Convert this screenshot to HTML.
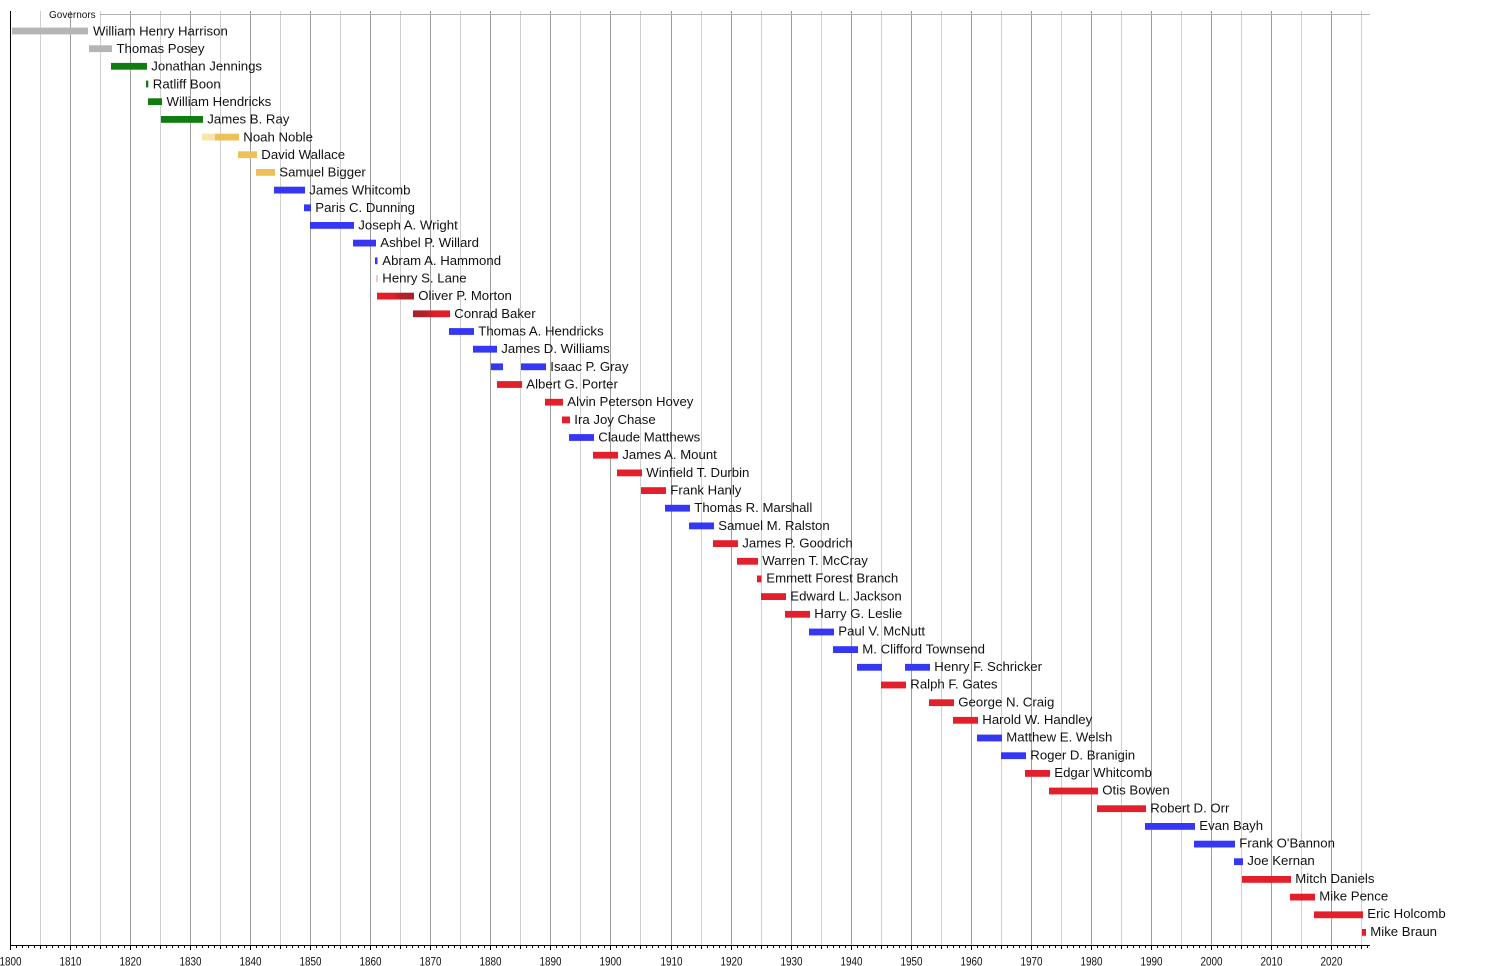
<!DOCTYPE html>
<html>
<head>
<meta charset="utf-8">
<style>
  html, body { margin:0; padding:0; background:#fff; }
  svg { display:block; }
  text { font-family: "Liberation Sans", Arial, sans-serif; fill:#111; }
  .lbl { font-size:13.2px; }
  .ax { font-size:11.5px; text-anchor:middle; }
</style>
</head>
<body>
<svg width="1500" height="966" viewBox="0 0 1500 966" xmlns="http://www.w3.org/2000/svg">
  <defs>
    <linearGradient id="morton" x1="0" x2="1" y1="0" y2="0">
      <stop offset="0" stop-color="#e31f2b"/>
      <stop offset="0.45" stop-color="#e01f2b"/>
      <stop offset="0.68" stop-color="#b0202a"/>
      <stop offset="1" stop-color="#ac2029"/>
    </linearGradient>
    <linearGradient id="baker" x1="0" x2="1" y1="0" y2="0">
      <stop offset="0" stop-color="#ac2029"/>
      <stop offset="0.3" stop-color="#b3202a"/>
      <stop offset="0.6" stop-color="#e01f2b"/>
      <stop offset="1" stop-color="#e31f2b"/>
    </linearGradient>
  </defs>

  <!-- grid lines -->
  <g stroke-width="1">
    <line x1="40.5" y1="11" x2="40.5" y2="945" stroke="#cfcfcf"/>
    <line x1="70.5" y1="11" x2="70.5" y2="945" stroke="#9c9c9c"/>
    <line x1="100.5" y1="11" x2="100.5" y2="945" stroke="#cfcfcf"/>
    <line x1="130.5" y1="11" x2="130.5" y2="945" stroke="#9c9c9c"/>
    <line x1="160.5" y1="11" x2="160.5" y2="945" stroke="#cfcfcf"/>
    <line x1="190.5" y1="11" x2="190.5" y2="945" stroke="#9c9c9c"/>
    <line x1="220.5" y1="11" x2="220.5" y2="945" stroke="#cfcfcf"/>
    <line x1="250.5" y1="11" x2="250.5" y2="945" stroke="#9c9c9c"/>
    <line x1="280.5" y1="11" x2="280.5" y2="945" stroke="#cfcfcf"/>
    <line x1="310.5" y1="11" x2="310.5" y2="945" stroke="#9c9c9c"/>
    <line x1="340.5" y1="11" x2="340.5" y2="945" stroke="#cfcfcf"/>
    <line x1="370.5" y1="11" x2="370.5" y2="945" stroke="#9c9c9c"/>
    <line x1="400.5" y1="11" x2="400.5" y2="945" stroke="#cfcfcf"/>
    <line x1="430.5" y1="11" x2="430.5" y2="945" stroke="#9c9c9c"/>
    <line x1="460.5" y1="11" x2="460.5" y2="945" stroke="#cfcfcf"/>
    <line x1="490.5" y1="11" x2="490.5" y2="945" stroke="#9c9c9c"/>
    <line x1="520.5" y1="11" x2="520.5" y2="945" stroke="#cfcfcf"/>
    <line x1="550.5" y1="11" x2="550.5" y2="945" stroke="#9c9c9c"/>
    <line x1="580.5" y1="11" x2="580.5" y2="945" stroke="#cfcfcf"/>
    <line x1="610.5" y1="11" x2="610.5" y2="945" stroke="#9c9c9c"/>
    <line x1="640.5" y1="11" x2="640.5" y2="945" stroke="#cfcfcf"/>
    <line x1="671.5" y1="11" x2="671.5" y2="945" stroke="#9c9c9c"/>
    <line x1="701.5" y1="11" x2="701.5" y2="945" stroke="#cfcfcf"/>
    <line x1="731.5" y1="11" x2="731.5" y2="945" stroke="#9c9c9c"/>
    <line x1="761.5" y1="11" x2="761.5" y2="945" stroke="#cfcfcf"/>
    <line x1="791.5" y1="11" x2="791.5" y2="945" stroke="#9c9c9c"/>
    <line x1="821.5" y1="11" x2="821.5" y2="945" stroke="#cfcfcf"/>
    <line x1="851.5" y1="11" x2="851.5" y2="945" stroke="#9c9c9c"/>
    <line x1="881.5" y1="11" x2="881.5" y2="945" stroke="#cfcfcf"/>
    <line x1="911.5" y1="11" x2="911.5" y2="945" stroke="#9c9c9c"/>
    <line x1="941.5" y1="11" x2="941.5" y2="945" stroke="#cfcfcf"/>
    <line x1="971.5" y1="11" x2="971.5" y2="945" stroke="#9c9c9c"/>
    <line x1="1001.5" y1="11" x2="1001.5" y2="945" stroke="#cfcfcf"/>
    <line x1="1031.5" y1="11" x2="1031.5" y2="945" stroke="#9c9c9c"/>
    <line x1="1061.5" y1="11" x2="1061.5" y2="945" stroke="#cfcfcf"/>
    <line x1="1091.5" y1="11" x2="1091.5" y2="945" stroke="#9c9c9c"/>
    <line x1="1121.5" y1="11" x2="1121.5" y2="945" stroke="#cfcfcf"/>
    <line x1="1151.5" y1="11" x2="1151.5" y2="945" stroke="#9c9c9c"/>
    <line x1="1181.5" y1="11" x2="1181.5" y2="945" stroke="#cfcfcf"/>
    <line x1="1211.5" y1="11" x2="1211.5" y2="945" stroke="#9c9c9c"/>
    <line x1="1241.5" y1="11" x2="1241.5" y2="945" stroke="#cfcfcf"/>
    <line x1="1271.5" y1="11" x2="1271.5" y2="945" stroke="#9c9c9c"/>
    <line x1="1301.5" y1="11" x2="1301.5" y2="945" stroke="#cfcfcf"/>
    <line x1="1331.5" y1="11" x2="1331.5" y2="945" stroke="#9c9c9c"/>
    <line x1="1361.5" y1="11" x2="1361.5" y2="945" stroke="#cfcfcf"/>
  </g>

  <!-- top line -->
  <line x1="100" y1="14.5" x2="1370" y2="14.5" stroke="#b4b4b4" stroke-width="1"/>
  <text x="49" y="18" style="font-size:10px">Governors</text>

  <!-- axes -->
  <line x1="10.5" y1="11" x2="10.5" y2="946" stroke="#000" stroke-width="1"/>
  <line x1="10" y1="945.5" x2="1370" y2="945.5" stroke="#000" stroke-width="1"/>

  <!-- ticks -->
  <path stroke="#000" stroke-width="1" fill="none" d="
M10.5 946v4 M16.5 946v2 M22.5 946v2 M28.5 946v2 M34.5 946v2 M40.5 946v3 M46.5 946v2 M52.5 946v2 M58.5 946v2 M64.5 946v2
M70.5 946v4 M76.5 946v2 M82.5 946v2 M88.5 946v2 M94.5 946v2 M100.5 946v3 M106.5 946v2 M112.5 946v2 M118.5 946v2 M124.5 946v2
M130.5 946v4 M136.5 946v2 M142.5 946v2 M148.5 946v2 M154.5 946v2 M160.5 946v3 M166.5 946v2 M172.5 946v2 M178.5 946v2 M184.5 946v2
M190.5 946v4 M196.5 946v2 M202.5 946v2 M208.5 946v2 M214.5 946v2 M220.5 946v3 M226.5 946v2 M232.5 946v2 M238.5 946v2 M244.5 946v2
M250.5 946v4 M256.5 946v2 M262.5 946v2 M268.5 946v2 M274.5 946v2 M280.5 946v3 M286.5 946v2 M292.5 946v2 M298.5 946v2 M304.5 946v2
M310.5 946v4 M316.5 946v2 M322.5 946v2 M328.5 946v2 M334.5 946v2 M340.5 946v3 M346.5 946v2 M352.5 946v2 M358.5 946v2 M364.5 946v2
M370.5 946v4 M376.5 946v2 M382.5 946v2 M388.5 946v2 M394.5 946v2 M400.5 946v3 M406.5 946v2 M412.5 946v2 M418.5 946v2 M424.5 946v2
M430.5 946v4 M436.5 946v2 M442.5 946v2 M448.5 946v2 M454.5 946v2 M460.5 946v3 M466.5 946v2 M472.5 946v2 M478.5 946v2 M484.5 946v2
M490.5 946v4 M496.5 946v2 M502.5 946v2 M508.5 946v2 M514.5 946v2 M520.5 946v3 M526.5 946v2 M532.5 946v2 M538.5 946v2 M544.5 946v2
M550.5 946v4 M556.5 946v2 M562.5 946v2 M568.5 946v2 M574.5 946v2 M580.5 946v3 M586.5 946v2 M592.5 946v2 M598.5 946v2 M604.5 946v2
M610.5 946v4 M616.5 946v2 M622.5 946v2 M628.5 946v2 M634.5 946v2 M640.5 946v3 M646.5 946v2 M652.5 946v2 M658.5 946v2 M665.5 946v2
M671.5 946v4 M677.5 946v2 M683.5 946v2 M689.5 946v2 M695.5 946v2 M701.5 946v3 M707.5 946v2 M713.5 946v2 M719.5 946v2 M725.5 946v2
M731.5 946v4 M737.5 946v2 M743.5 946v2 M749.5 946v2 M755.5 946v2 M761.5 946v3 M767.5 946v2 M773.5 946v2 M779.5 946v2 M785.5 946v2
M791.5 946v4 M797.5 946v2 M803.5 946v2 M809.5 946v2 M815.5 946v2 M821.5 946v3 M827.5 946v2 M833.5 946v2 M839.5 946v2 M845.5 946v2
M851.5 946v4 M857.5 946v2 M863.5 946v2 M869.5 946v2 M875.5 946v2 M881.5 946v3 M887.5 946v2 M893.5 946v2 M899.5 946v2 M905.5 946v2
M911.5 946v4 M917.5 946v2 M923.5 946v2 M929.5 946v2 M935.5 946v2 M941.5 946v3 M947.5 946v2 M953.5 946v2 M959.5 946v2 M965.5 946v2
M971.5 946v4 M977.5 946v2 M983.5 946v2 M989.5 946v2 M995.5 946v2 M1001.5 946v3 M1007.5 946v2 M1013.5 946v2 M1019.5 946v2 M1025.5 946v2
M1031.5 946v4 M1037.5 946v2 M1043.5 946v2 M1049.5 946v2 M1055.5 946v2 M1061.5 946v3 M1067.5 946v2 M1073.5 946v2 M1079.5 946v2 M1085.5 946v2
M1091.5 946v4 M1097.5 946v2 M1103.5 946v2 M1109.5 946v2 M1115.5 946v2 M1121.5 946v3 M1127.5 946v2 M1133.5 946v2 M1139.5 946v2 M1145.5 946v2
M1151.5 946v4 M1157.5 946v2 M1163.5 946v2 M1169.5 946v2 M1175.5 946v2 M1181.5 946v3 M1187.5 946v2 M1193.5 946v2 M1199.5 946v2 M1205.5 946v2
M1211.5 946v4 M1217.5 946v2 M1223.5 946v2 M1229.5 946v2 M1235.5 946v2 M1241.5 946v3 M1247.5 946v2 M1253.5 946v2 M1259.5 946v2 M1265.5 946v2
M1271.5 946v4 M1277.5 946v2 M1283.5 946v2 M1289.5 946v2 M1295.5 946v2 M1301.5 946v3 M1307.5 946v2 M1313.5 946v2 M1319.5 946v2 M1325.5 946v2
M1331.5 946v4 M1337.5 946v2 M1343.5 946v2 M1349.5 946v2 M1355.5 946v2 M1361.5 946v3 M1367.5 946v2"/>

  <!-- axis labels -->
  <g>
    <text class="ax" x="10.5" y="965.5" textLength="22" lengthAdjust="spacingAndGlyphs">1800</text>
    <text class="ax" x="70.5" y="965.5" textLength="22" lengthAdjust="spacingAndGlyphs">1810</text>
    <text class="ax" x="130.5" y="965.5" textLength="22" lengthAdjust="spacingAndGlyphs">1820</text>
    <text class="ax" x="190.5" y="965.5" textLength="22" lengthAdjust="spacingAndGlyphs">1830</text>
    <text class="ax" x="250.5" y="965.5" textLength="22" lengthAdjust="spacingAndGlyphs">1840</text>
    <text class="ax" x="310.5" y="965.5" textLength="22" lengthAdjust="spacingAndGlyphs">1850</text>
    <text class="ax" x="370.5" y="965.5" textLength="22" lengthAdjust="spacingAndGlyphs">1860</text>
    <text class="ax" x="430.5" y="965.5" textLength="22" lengthAdjust="spacingAndGlyphs">1870</text>
    <text class="ax" x="490.5" y="965.5" textLength="22" lengthAdjust="spacingAndGlyphs">1880</text>
    <text class="ax" x="550.5" y="965.5" textLength="22" lengthAdjust="spacingAndGlyphs">1890</text>
    <text class="ax" x="610.5" y="965.5" textLength="22" lengthAdjust="spacingAndGlyphs">1900</text>
    <text class="ax" x="671.5" y="965.5" textLength="22" lengthAdjust="spacingAndGlyphs">1910</text>
    <text class="ax" x="731.5" y="965.5" textLength="22" lengthAdjust="spacingAndGlyphs">1920</text>
    <text class="ax" x="791.5" y="965.5" textLength="22" lengthAdjust="spacingAndGlyphs">1930</text>
    <text class="ax" x="851.5" y="965.5" textLength="22" lengthAdjust="spacingAndGlyphs">1940</text>
    <text class="ax" x="911.5" y="965.5" textLength="22" lengthAdjust="spacingAndGlyphs">1950</text>
    <text class="ax" x="971.5" y="965.5" textLength="22" lengthAdjust="spacingAndGlyphs">1960</text>
    <text class="ax" x="1031.5" y="965.5" textLength="22" lengthAdjust="spacingAndGlyphs">1970</text>
    <text class="ax" x="1091.5" y="965.5" textLength="22" lengthAdjust="spacingAndGlyphs">1980</text>
    <text class="ax" x="1151.5" y="965.5" textLength="22" lengthAdjust="spacingAndGlyphs">1990</text>
    <text class="ax" x="1211.5" y="965.5" textLength="22" lengthAdjust="spacingAndGlyphs">2000</text>
    <text class="ax" x="1271.5" y="965.5" textLength="22" lengthAdjust="spacingAndGlyphs">2010</text>
    <text class="ax" x="1331.5" y="965.5" textLength="22" lengthAdjust="spacingAndGlyphs">2020</text>
  </g>

  <!-- bars -->
  <g>
    <rect x="12" y="27.6" width="76" height="6.8" fill="#b5b5b5"/>
    <rect x="89" y="45.3" width="23" height="6.8" fill="#b5b5b5"/>
    <rect x="111" y="62.9" width="36" height="6.8" fill="#0f7d0f"/>
    <rect x="146" y="80.6" width="2.3" height="6.8" fill="#0f7d0f"/>
    <rect x="148" y="98.3" width="14" height="6.8" fill="#0f7d0f"/>
    <rect x="161" y="116.0" width="42" height="6.8" fill="#0f7d0f"/>
    <rect x="202" y="133.7" width="13" height="6.8" fill="#f9e4ab"/>
    <rect x="215" y="133.7" width="24" height="6.8" fill="#edc158"/>
    <rect x="238" y="151.3" width="19" height="6.8" fill="#edc158"/>
    <rect x="256" y="169.0" width="19" height="6.8" fill="#edc158"/>
    <rect x="274" y="186.7" width="31" height="6.8" fill="#3636f5"/>
    <rect x="304" y="204.4" width="7" height="6.8" fill="#3636f5"/>
    <rect x="310" y="222.0" width="44" height="6.8" fill="#3636f5"/>
    <rect x="353" y="239.7" width="23" height="6.8" fill="#3636f5"/>
    <rect x="375" y="257.4" width="2.5" height="6.8" fill="#3636f5"/>
    <rect x="376.5" y="275.1" width="1" height="6.8" fill="#e88a90"/>
    <rect x="377" y="292.7" width="37" height="6.8" fill="url(#morton)"/>
    <rect x="413" y="310.4" width="37" height="6.8" fill="url(#baker)"/>
    <rect x="449" y="328.1" width="25" height="6.8" fill="#3636f5"/>
    <rect x="473" y="345.8" width="24" height="6.8" fill="#3636f5"/>
    <rect x="491" y="363.4" width="12" height="6.8" fill="#3636f5"/>
    <rect x="521" y="363.4" width="25" height="6.8" fill="#3636f5"/>
    <rect x="497" y="381.1" width="25" height="6.8" fill="#e31f2b"/>
    <rect x="545" y="398.8" width="18" height="6.8" fill="#e31f2b"/>
    <rect x="562" y="416.5" width="8" height="6.8" fill="#e31f2b"/>
    <rect x="569" y="434.1" width="25" height="6.8" fill="#3636f5"/>
    <rect x="593" y="451.8" width="25" height="6.8" fill="#e31f2b"/>
    <rect x="617" y="469.5" width="25" height="6.8" fill="#e31f2b"/>
    <rect x="641" y="487.2" width="25" height="6.8" fill="#e31f2b"/>
    <rect x="665" y="504.8" width="25" height="6.8" fill="#3636f5"/>
    <rect x="689" y="522.5" width="25" height="6.8" fill="#3636f5"/>
    <rect x="713" y="540.2" width="25" height="6.8" fill="#e31f2b"/>
    <rect x="737" y="557.9" width="21" height="6.8" fill="#e31f2b"/>
    <rect x="757" y="575.5" width="4.5" height="6.8" fill="#e31f2b"/>
    <rect x="761" y="593.2" width="25" height="6.8" fill="#e31f2b"/>
    <rect x="785" y="610.9" width="25" height="6.8" fill="#e31f2b"/>
    <rect x="809" y="628.6" width="25" height="6.8" fill="#3636f5"/>
    <rect x="833" y="646.2" width="25" height="6.8" fill="#3636f5"/>
    <rect x="857" y="663.9" width="25" height="6.8" fill="#3636f5"/>
    <rect x="905" y="663.9" width="25" height="6.8" fill="#3636f5"/>
    <rect x="881" y="681.6" width="25" height="6.8" fill="#e31f2b"/>
    <rect x="929" y="699.3" width="25" height="6.8" fill="#e31f2b"/>
    <rect x="953" y="716.9" width="25" height="6.8" fill="#e31f2b"/>
    <rect x="977" y="734.6" width="25" height="6.8" fill="#3636f5"/>
    <rect x="1001" y="752.3" width="25" height="6.8" fill="#3636f5"/>
    <rect x="1025" y="770.0" width="25" height="6.8" fill="#e31f2b"/>
    <rect x="1049" y="787.6" width="49" height="6.8" fill="#e31f2b"/>
    <rect x="1097" y="805.3" width="49" height="6.8" fill="#e31f2b"/>
    <rect x="1145" y="823.0" width="50" height="6.8" fill="#3636f5"/>
    <rect x="1194" y="840.7" width="41" height="6.8" fill="#3636f5"/>
    <rect x="1234" y="858.3" width="9" height="6.8" fill="#3636f5"/>
    <rect x="1242" y="876.0" width="49" height="6.8" fill="#e31f2b"/>
    <rect x="1290" y="893.7" width="25" height="6.8" fill="#e31f2b"/>
    <rect x="1314" y="911.4" width="49" height="6.8" fill="#e31f2b"/>
    <rect x="1362" y="929.0" width="4" height="6.8" fill="#e31f2b"/>
  </g>

  <!-- labels -->
  <g>
    <text class="lbl" x="93" y="35.3">William Henry Harrison</text>
    <text class="lbl" x="116.5" y="53.0">Thomas Posey</text>
    <text class="lbl" x="151.3" y="70.6">Jonathan Jennings</text>
    <text class="lbl" x="152.8" y="88.3">Ratliff Boon</text>
    <text class="lbl" x="166.5" y="106.0">William Hendricks</text>
    <text class="lbl" x="207.3" y="123.6">James B. Ray</text>
    <text class="lbl" x="243.3" y="141.3">Noah Noble</text>
    <text class="lbl" x="261.3" y="158.9">David Wallace</text>
    <text class="lbl" x="279.3" y="176.6">Samuel Bigger</text>
    <text class="lbl" x="309.3" y="194.3">James Whitcomb</text>
    <text class="lbl" x="315.3" y="211.9">Paris C. Dunning</text>
    <text class="lbl" x="358.3" y="229.6">Joseph A. Wright</text>
    <text class="lbl" x="380.3" y="247.2">Ashbel P. Willard</text>
    <text class="lbl" x="382.3" y="264.9">Abram A. Hammond</text>
    <text class="lbl" x="382.3" y="282.6">Henry S. Lane</text>
    <text class="lbl" x="418.3" y="300.2">Oliver P. Morton</text>
    <text class="lbl" x="454.3" y="317.9">Conrad Baker</text>
    <text class="lbl" x="478.3" y="335.5">Thomas A. Hendricks</text>
    <text class="lbl" x="501.3" y="353.2">James D. Williams</text>
    <text class="lbl" x="550.3" y="370.8">Isaac P. Gray</text>
    <text class="lbl" x="526.3" y="388.5">Albert G. Porter</text>
    <text class="lbl" x="567.3" y="406.2">Alvin Peterson Hovey</text>
    <text class="lbl" x="574.3" y="423.8">Ira Joy Chase</text>
    <text class="lbl" x="598.3" y="441.5">Claude Matthews</text>
    <text class="lbl" x="622.3" y="459.1">James A. Mount</text>
    <text class="lbl" x="646.3" y="476.8">Winfield T. Durbin</text>
    <text class="lbl" x="670.3" y="494.4">Frank Hanly</text>
    <text class="lbl" x="694.3" y="512.1">Thomas R. Marshall</text>
    <text class="lbl" x="718.3" y="529.8">Samuel M. Ralston</text>
    <text class="lbl" x="742.3" y="547.4">James P. Goodrich</text>
    <text class="lbl" x="762.3" y="565.1">Warren T. McCray</text>
    <text class="lbl" x="766.3" y="582.7">Emmett Forest Branch</text>
    <text class="lbl" x="790.3" y="600.4">Edward L. Jackson</text>
    <text class="lbl" x="814.3" y="618.0">Harry G. Leslie</text>
    <text class="lbl" x="838.3" y="635.7">Paul V. McNutt</text>
    <text class="lbl" x="862.3" y="653.3">M. Clifford Townsend</text>
    <text class="lbl" x="934.3" y="671.0">Henry F. Schricker</text>
    <text class="lbl" x="910.3" y="688.7">Ralph F. Gates</text>
    <text class="lbl" x="958.3" y="706.3">George N. Craig</text>
    <text class="lbl" x="982.3" y="724.0">Harold W. Handley</text>
    <text class="lbl" x="1006.3" y="741.6">Matthew E. Welsh</text>
    <text class="lbl" x="1030.3" y="759.3">Roger D. Branigin</text>
    <text class="lbl" x="1054.3" y="776.9">Edgar Whitcomb</text>
    <text class="lbl" x="1102.3" y="794.6">Otis Bowen</text>
    <text class="lbl" x="1150.3" y="812.3">Robert D. Orr</text>
    <text class="lbl" x="1199.3" y="829.9">Evan Bayh</text>
    <text class="lbl" x="1239.3" y="847.6">Frank O'Bannon</text>
    <text class="lbl" x="1247.3" y="865.2">Joe Kernan</text>
    <text class="lbl" x="1295.3" y="882.9">Mitch Daniels</text>
    <text class="lbl" x="1319.3" y="900.5">Mike Pence</text>
    <text class="lbl" x="1367.3" y="918.2">Eric Holcomb</text>
    <text class="lbl" x="1370.3" y="935.9">Mike Braun</text>
  </g>
</svg>
</body>
</html>
